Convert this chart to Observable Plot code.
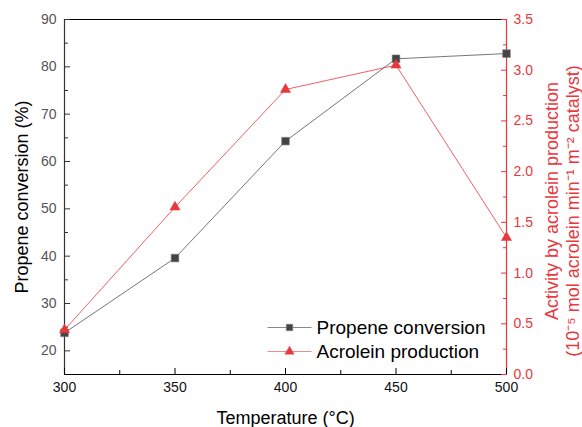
<!DOCTYPE html>
<html>
<head>
<meta charset="utf-8">
<script src="https://cdn.jsdelivr.net/npm/d3@7"></script>
<script src="https://cdn.jsdelivr.net/npm/@observablehq/plot@0.6"></script>
<style>
  html, body { margin: 0; padding: 0; background: #fff; }
</style>
</head>
<body>
<div id="chart"></div>
<script>
// Data
const temps = [300, 350, 400, 450, 500];
const propene = [23.8, 39.6, 64.3, 81.7, 82.8];      // Propene conversion (%)
const acrolein = [0.44, 1.65, 2.81, 3.05, 1.35];     // Activity (1e-5 mol acrolein min-1 m-2 catalyst)
const xTicks = [300, 350, 400, 450, 500];
const xMinor = [325, 375, 425, 475];
const leftTicks = [20, 30, 40, 50, 60, 70, 80, 90];
const leftMinor = [25, 35, 45, 55, 65, 75, 85];
const rightTicks = [0, 0.5, 1.0, 1.5, 2.0, 2.5, 3.0, 3.5];
const rightMinor = [0.25, 0.75, 1.25, 1.75, 2.25, 2.75, 3.25];
const seriesNames = ["Propene conversion", "Acrolein production"];

const leftDomain = [15, 90];
const rightDomain = [0, 3.5];
const toLeft = v => leftDomain[0] + (v - rightDomain[0]) * (leftDomain[1] - leftDomain[0]) / (rightDomain[1] - rightDomain[0]);
const toRight = v => rightDomain[0] + (v - leftDomain[0]) * (rightDomain[1] - rightDomain[0]) / (leftDomain[1] - leftDomain[0]);

const propData = temps.map((t, i) => ({t, v: propene[i]}));
const acrData = temps.map((t, i) => ({t, v: toLeft(acrolein[i])}));

const RED = "#e8383d";
const GREY = "#444";
const FONT = "'Liberation Sans', Arial, sans-serif";

const hline = {
  draw(context) {
    context.moveTo(-22, 0);
    context.lineTo(22, 0);
  }
};

const chart = Plot.plot({
  width: 582,
  height: 427,
  marginLeft: 64,
  marginRight: 76,
  marginTop: 19,
  marginBottom: 53,
  x: {domain: [300, 500]},
  y: {domain: leftDomain},
  style: {fontFamily: FONT, background: "#fff"},
  marks: [
    // frame lines
    Plot.ruleY([leftDomain[1]], {stroke: "#000", strokeWidth: 1.2}),
    Plot.ruleY([leftDomain[0]], {stroke: "#000", strokeWidth: 1.2}),
    Plot.ruleX([300], {stroke: "#333", strokeWidth: 1.2}),
    Plot.ruleX([500], {stroke: RED, strokeWidth: 1.2}),
    // x axis
    Plot.axisX({ticks: xTicks, tickSize: -6, tickFormat: () => "", label: null, stroke: "#000"}),
    Plot.axisX({ticks: xMinor, tickSize: -4, tickFormat: () => "", label: null, stroke: "#000"}),
    Plot.axisX({ticks: xTicks, tickSize: 0, tickPadding: 8, fontSize: 14, fill: "#111", label: null}),
    // left axis
    Plot.axisY({ticks: leftTicks, tickSize: -6, tickFormat: () => "", label: null, stroke: "#333"}),
    Plot.axisY({ticks: leftMinor, tickSize: -4, tickFormat: () => "", label: null, stroke: "#333"}),
    Plot.axisY({ticks: leftTicks, tickSize: 0, tickPadding: 8, fontSize: 14, fill: "#555", label: null}),
    // right axis
    Plot.axisY({anchor: "right", ticks: rightTicks.map(toLeft), tickSize: -6, tickFormat: () => "", label: null, stroke: RED}),
    Plot.axisY({anchor: "right", ticks: rightMinor.map(toLeft), tickSize: -4, tickFormat: () => "", label: null, stroke: RED}),
    Plot.axisY({anchor: "right", ticks: rightTicks.map(toLeft), tickSize: 0, tickPadding: 7, fontSize: 14, fill: RED, label: null,
      tickFormat: d => toRight(d).toFixed(1)}),
    // axis titles
    Plot.text(["Propene conversion (%)"], {frameAnchor: "left", dx: -42, rotate: -90, textAnchor: "middle", lineAnchor: "middle", fontSize: 18, fill: "#000", text: d => d}),
    Plot.text(["Temperature (°C)"], {frameAnchor: "bottom", dy: 44, textAnchor: "middle", lineAnchor: "middle", fontSize: 18, fill: "#000", text: d => d}),
    Plot.text(["Activity by acrolein production"], {frameAnchor: "right", dx: 46, dy: 4, rotate: -90, textAnchor: "middle", lineAnchor: "middle", fontSize: 18, fill: RED, text: d => d}),
    Plot.text(["(10⁻⁵ mol acrolein min⁻¹ m⁻² catalyst)"], {frameAnchor: "right", dx: 67, dy: 14, rotate: -90, textAnchor: "middle", lineAnchor: "middle", fontSize: 18, fill: RED, text: d => d}),
    // series
    Plot.line(propData, {x: "t", y: "v", stroke: "#666", strokeWidth: 0.9}),
    Plot.line(acrData, {x: "t", y: "v", stroke: RED, strokeWidth: 0.8}),
    Plot.dot(propData, {x: "t", y: "v", symbol: "square", r: 4.3, fill: GREY, stroke: "#777", strokeWidth: 0.6}),
    Plot.dot(acrData, {x: "t", y: "v", symbol: "triangle", r: 3.8, fill: RED, stroke: RED, strokeWidth: 0.5}),
    // legend
    Plot.dot([seriesNames[0]], {frameAnchor: "bottom-left", dx: 225, dy: -47, symbol: hline, r: 1, stroke: "#888", strokeWidth: 1, fill: "none"}),
    Plot.dot([seriesNames[1]], {frameAnchor: "bottom-left", dx: 225, dy: -23, symbol: hline, r: 1, stroke: "#f08a8d", strokeWidth: 1, fill: "none"}),
    Plot.dot([seriesNames[0]], {frameAnchor: "bottom-left", dx: 225, dy: -47, symbol: "square", r: 3.6, fill: GREY, stroke: "#777", strokeWidth: 0.6}),
    Plot.dot([seriesNames[1]], {frameAnchor: "bottom-left", dx: 225, dy: -23, symbol: "triangle", r: 3.4, fill: RED, stroke: RED, strokeWidth: 0.5}),
    Plot.text([seriesNames[0]], {frameAnchor: "bottom-left", dx: 252, dy: -47, text: d => d, fontSize: 19, fill: "#000", textAnchor: "start", lineAnchor: "middle"}),
    Plot.text([seriesNames[1]], {frameAnchor: "bottom-left", dx: 252, dy: -23, text: d => d, fontSize: 19, fill: "#000", textAnchor: "start", lineAnchor: "middle"})
  ]
});

document.getElementById("chart").appendChild(chart);
</script>
</body>
</html>
